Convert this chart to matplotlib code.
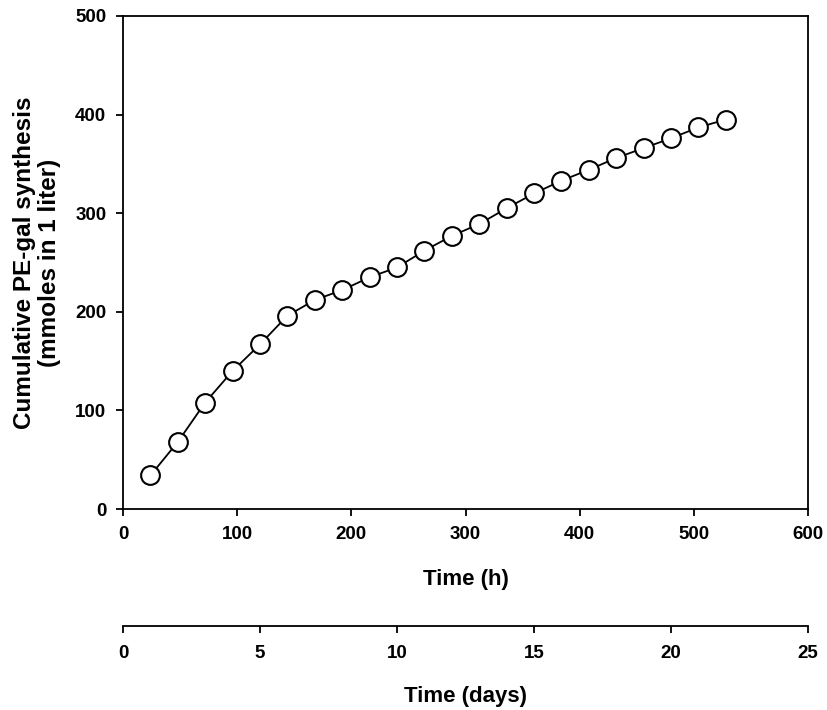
import matplotlib
matplotlib.use("Agg")
import matplotlib.pyplot as plt
import numpy as np

plt.rcParams['font.family'] = ['Liberation Sans', 'DejaVu Sans']
plt.rcParams['font.weight'] = 'bold'

time_h = [24, 48, 72, 96, 120, 144, 168, 192, 216, 240, 264, 288, 312, 336,
          360, 384, 408, 432, 456, 480, 504, 528]
cumulative = [34, 68, 108, 140, 167, 196, 212, 222, 235, 245, 262, 277, 289, 305,
              320, 333, 344, 356, 366, 376, 387, 395]

x_ticks_h = [0, 100, 200, 300, 400, 500, 600]
y_ticks = [0, 100, 200, 300, 400, 500]
x_ticks_days = [0, 5, 10, 15, 20, 25]

W, H = 827, 710
fig = plt.figure(figsize=(W / 100, H / 100), dpi=100)

TICK_FS = 13.5
LAB_FS = 16

L, R, T, B = 123, 808, 16, 509
ax = fig.add_axes([L / W, (H - B) / H, (R - L) / W, (B - T) / H])
ax.plot(time_h, cumulative, color='black', lw=1.3, marker='o', ms=13.5,
        mfc='white', mec='black', mew=1.5, zorder=3, clip_on=False)
ax.set_xlim(0, 600)
ax.set_ylim(0, 500)
ax.set_xticks(x_ticks_h)
ax.set_yticks(y_ticks)
for s in ax.spines.values():
    s.set_linewidth(1.3)
ax.tick_params(direction='out', length=5, width=1.3, labelsize=TICK_FS, pad=7)
for lab in ax.get_xticklabels() + ax.get_yticklabels():
    lab.set_fontweight('bold')
ax.set_xlabel('Time (h)', fontsize=LAB_FS, fontweight='bold', labelpad=19)
ax.set_ylabel('Cumulative PE-gal synthesis\n(mmoles in 1 liter)', fontsize=17.5,
              fontweight='bold', labelpad=10, linespacing=1.12)

# second (days) axis
ax2 = fig.add_axes([L / W, (H - 626) / H, (R - L) / W, 0.0001])
ax2.set_xlim(0, 25)
ax2.set_xticks(x_ticks_days)
ax2.set_yticks([])
for k in ['top', 'left', 'right']:
    ax2.spines[k].set_visible(False)
ax2.spines['bottom'].set_linewidth(1.3)
ax2.tick_params(direction='out', length=5, width=1.3, labelsize=TICK_FS, pad=9)
for lab in ax2.get_xticklabels():
    lab.set_fontweight('bold')
ax2.set_xlabel('Time (days)', fontsize=LAB_FS, fontweight='bold', labelpad=17)
ax2.patch.set_visible(False)

fig.savefig('out.png', dpi=100)
